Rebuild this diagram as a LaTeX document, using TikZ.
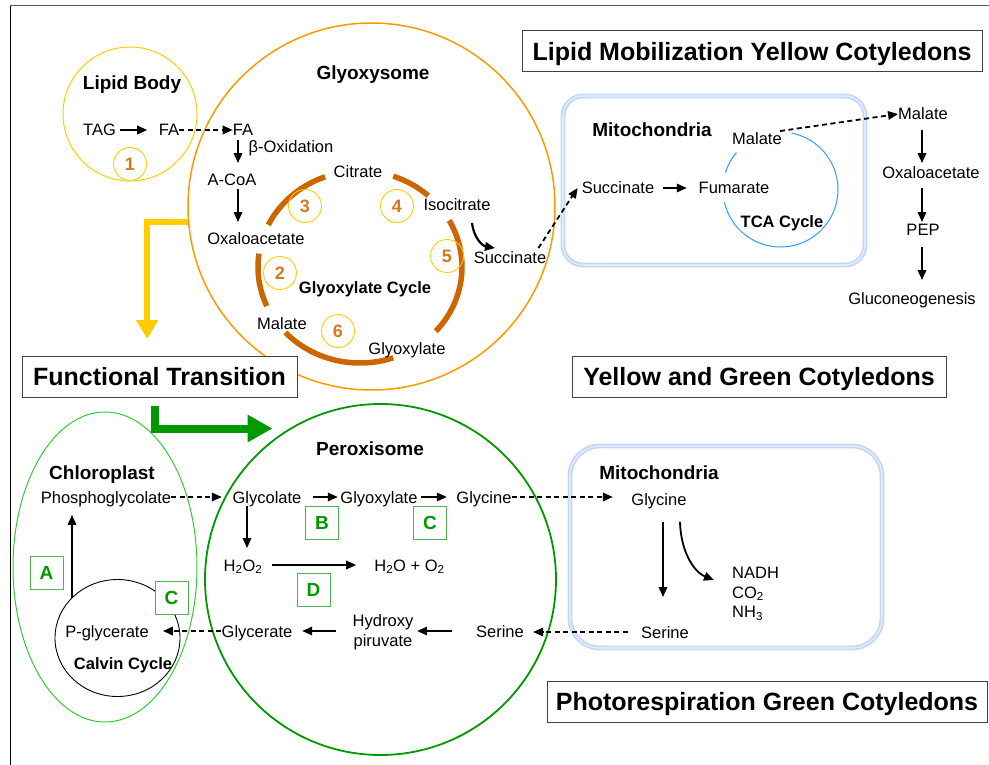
\documentclass[tikz,border=0pt]{standalone}
\usepackage{fontspec}
\setmainfont{Liberation Sans}
\usetikzlibrary{arrows.meta,shapes.geometric,calc}
\definecolor{ringc}{HTML}{CC6600}
\definecolor{glyoc}{HTML}{FF9900}
\definecolor{ylw}{HTML}{FFCC00}
\definecolor{numc}{HTML}{D47A1E}
\definecolor{dgreen}{HTML}{009900}
\definecolor{lgreen}{HTML}{33CC33}
\definecolor{boxg}{HTML}{4DB34D}
\definecolor{tcac}{HTML}{3399FF}
\definecolor{mitoc}{HTML}{C2D6F6}
\definecolor{mitoin}{HTML}{E0EAFB}
\tikzset{
 txt/.style={inner sep=0pt, text height=12pt, text depth=0pt, font=\fontsize{16.5}{19}\selectfont},
 txtm/.style={inner sep=0pt, font=\fontsize{16.5}{19.5}\selectfont},
 bl/.style={inner sep=0pt, text height=13.6pt, text depth=0pt, font=\bfseries\fontsize{19}{22}\selectfont},
 cyc/.style={txt, font=\bfseries\fontsize{16.5}{19}\selectfont},
 ttl/.style={draw=black!75, line width=1, fill=white, font=\bfseries\fontsize{25}{28}\selectfont, minimum height=41pt, inner sep=0pt, text height=18pt, text depth=0pt},
 ncirc/.style={circle, draw=ylw, line width=0.9, minimum size=33pt, inner sep=0pt, text=numc, font=\bfseries\fontsize{18}{20}\selectfont},
 lbox/.style={draw=boxg, line width=1, fill=white, minimum size=33pt, inner sep=0pt, text=dgreen, font=\bfseries\fontsize{19}{20}\selectfont},
 arr/.style={line width=1.8, -{Triangle[length=10pt,width=8.5pt]}},
 darr/.style={arr, dash pattern=on 5pt off 3.5pt},
 ring/.style={draw=ringc, line width=5.5},
 mitobox/.style={draw=mitoc, line width=1.6, double=mitoin, double distance=1.6pt, inner sep=0pt},
}
\begin{document}
\begin{tikzpicture}[x=1pt,y=-1pt]
\useasboundingbox (0,0) rectangle (989,765);
% frame
\draw[black!65, line width=1] (10,6) -- (989,6);
\draw[black, line width=1] (10,6) -- (10,765);

% containers
\node[circle, draw=ylw, line width=1, minimum size=134pt, inner sep=0pt] (lipid) at (130,114) {};
\node[circle, draw=glyoc, line width=1.5, minimum size=367pt, inner sep=0pt] (glyo) at (371.5,206.5) {};
\node[mitobox, rounded corners=20pt, minimum width=302pt, minimum height=169pt] (mito1) at (714,180.5) {};
\node[mitobox, rounded corners=30pt, minimum width=312pt, minimum height=202pt] (mito2) at (726,547) {};
\node[ellipse, draw=lgreen, line width=1, minimum width=184pt, minimum height=310pt, inner sep=0pt] (chl) at (105,567) {};
\node[circle, draw=dgreen, line width=1.8, minimum size=351pt, inner sep=0pt] (perox) at (380.5,579.5) {};
\node[ellipse, draw=black, line width=0.9, minimum width=125pt, minimum height=117pt, inner sep=0pt] (calvin) at (117.5,638) {};

% glyoxylate cycle ring
\foreach \a/\b in {48/71,110/154,172/204,223/289,318/389}
  \draw[ring] plot[domain=\a:\b, samples=40, variable=\t] ({360+102*cos(\t)},{267-96*sin(\t)});
% TCA cycle
\foreach \a/\b in {140/163,193/439}
  \draw[tcac, line width=1] plot[domain=\a:\b, samples=60, variable=\t] ({780.5+57.5*cos(\t)},{189.5-57.5*sin(\t)});

% titles
\node[ttl, minimum width=460pt] (lmt) at (752,51.5) {Lipid Mobilization Yellow Cotyledons};
\node[ttl, minimum width=275pt] (ft) at (159.5,376.5) {Functional Transition};
\node[ttl, minimum width=374pt] (ygc) at (759,376.5) {Yellow and Green Cotyledons};
\node[ttl, minimum width=440pt] (pgc) at (767,701.5) {Photorespiration Green Cotyledons};

% big transition arrows
\draw[ylw, line width=6, -{Triangle[length=19pt,width=21pt]}] ($(glyo.west)+(0.7,15.5)$) -- ++(-40.7,0) -- ++(0,117);
\draw[dgreen, line width=8, -{Triangle[length=25pt,width=26pt]}] ($(ft.south)+(-4.5,8)$) -- ++(0,23) -- ++(117.5,0);

% lipid body / glyoxysome
\node[bl] (lbt) at (132,83) {Lipid Body};
\node[txt] (tag) at (99.5,130) {TAG};
\node[txt] (fa1) at (169,130) {FA};
\node[txt] (fa2) at (243,130) {FA};
\node[ncirc] (n1) at (130,164) {1};
\node[bl] (glyt) at (373,73) {Glyoxysome};
\node[txt] (box) at (291,147) {β-Oxidation};
\node[txt] (acoa) at (232,180) {A-CoA};
\node[txt] (oaa) at (256,238) {Oxaloacetate};
\node[txt] (cit) at (358,172) {Citrate};
\node[txt] (isoc) at (457,205) {Isocitrate};
\node[txt] (suc1) at (510,258) {Succinate};
\node[cyc] (glc) at (365,288) {Glyoxylate Cycle};
\node[txt] (mal0) at (282,323) {Malate};
\node[txt] (glx0) at (407,348) {Glyoxylate};
\node[ncirc] (n3) at (305,206) {3};
\node[ncirc] (n4) at (397,206) {4};
\node[ncirc] (n5) at (447,256) {5};
\node[ncirc] (n2) at (280,273) {2};
\node[ncirc] (n6) at (338,331) {6};

% mitochondria (top)
\node[bl] (mitt1) at (652,130) {Mitochondria};
\node[txt] (mal1) at (757,139) {Malate};
\node[txt] (suc2) at (618,188) {Succinate};
\node[txt] (fum) at (734,188) {Fumarate};
\node[cyc] (tcat) at (782,222) {TCA Cycle};
\node[txt] (mal2) at (923,114) {Malate};
\node[txt] (oaa2) at (931,173) {Oxaloacetate};
\node[txt] (pep) at (923,230) {PEP};
\node[txt] (gng) at (912,298) {Gluconeogenesis};

% bottom half
\node[bl] (chlt) at (102,473) {Chloroplast};
\node[txt] (pgly) at (106,497) {Phosphoglycolate};
\node[txt] (glyc) at (267,497) {Glycolate};
\node[bl] (pert) at (370,449) {Peroxisome};
\node[txt] (glx1) at (379,497) {Glyoxylate};
\node[txt] (gly1) at (484,497) {Glycine};
\node[txt] (h2o2) at (243,565) {H\textsubscript{2}O\textsubscript{2}};
\node[txt] (prod) at (409.5,565) {H\textsubscript{2}O + O\textsubscript{2}};
\node[txt] (pglyc) at (107,631) {P-glycerate};
\node[cyc] (calt) at (123,663) {Calvin Cycle};
\node[txt] (glce) at (257,631) {Glycerate};
\node[txtm, align=center] (hyd) at (383,632) {Hydroxy\\piruvate};
\node[txt] (ser1) at (500,631) {Serine};
\node[bl] (mitt2) at (659,473) {Mitochondria};
\node[txt] (gly2) at (659,499) {Glycine};
\node[txt] (ser2) at (665,632) {Serine};
\node[txtm, align=left, anchor=west] (nad) at (732,594) {NADH\\CO\textsubscript{2}\\NH\textsubscript{3}};

% connectors (top)
\draw[arr, shorten <=4pt, shorten >=11.5pt] (tag) -- (fa1);
\draw[darr] (fa1) -- (fa2);
\draw[arr] ($(fa2.south)+(-5,3.75)$) -- ($(acoa.north)+(6,-10.75)$);
\draw[arr] ($(acoa.south)+(6,3.25)$) -- ($(oaa.north)+(-18,-9.75)$);
\draw[arr, line width=2.2] ($(isoc.south)+(15,11.75)$) .. controls +(2,16) and +(-12,-2) .. ($(suc1.north)+(-15,-3.75)$);
\draw[darr] ($(suc1.north east)+(-8,-3.75)$) -- ($(suc2.west)+(-4,0)$);
\draw[arr, shorten <=9pt, shorten >=11.7pt] (suc2) -- (fum);
\draw[darr] ($(mal1.north east)+(-2,-1.75)$) -- (mal2.west);
\draw[arr] ($(mal2.south)+(-1,9.75)$) -- ($(oaa2.north)+(-9,-3.75)$);
\draw[arr] ($(oaa2.south)+(-9,8.75)$) -- ($(pep.north)+(-1,-1.75)$);
\draw[arr] ($(pep.south)+(-1,10.75)$) -- ($(gng.north)+(10,-11.75)$);

% connectors (bottom)
\draw[darr, shorten >=10.6pt] (pgly) -- (glyc);
\draw[arr] ($(calvin.center)+(-45.5,-40)$) -- ($(pgly.south)+(-34,11.75)$);
\draw[arr, shorten <=11.6pt, shorten >=2.5pt] (glyc) -- (glx1);
\draw[arr, shorten <=3.5pt, shorten >=9.5pt] (glx1) -- (gly1);
\draw[darr, shorten >=18.5pt] (gly1.east) -- (gly1.east -| gly2.west);
\draw[arr] ($(glyc.south)+(-20,2.75)$) -- ($(h2o2.north)+(4,-10.75)$);
\draw[arr, shorten <=9pt, shorten >=18pt] (h2o2) -- (prod);
\draw[arr, shorten <=24pt, shorten >=3.7pt] (ser1) -- (ser1 -| hyd.east);
\draw[arr, shorten <=16.7pt, shorten >=9.7pt] (glce -| hyd.west) -- (glce);
\draw[darr, shorten >=14pt] (glce) -- (pglyc);
\draw[darr, shorten <=13pt, shorten >=9pt] (ser2.west) -- (ser2.west -| ser1.east);
\draw[arr] ($(gly2.south)+(4,16.75)$) -- ($(ser2.north)+(-2,-28.75)$);
\draw[arr] ($(gly2.south)+(21,16.75)$) .. controls +(1,33) and +(-18,-7) .. ($(nad.west)+(-18,-14)$);

% enzyme boxes
\node[lbox] (bA) at (46.5,572.5) {A};
\node[lbox] (bC1) at (171.5,597.5) {C};
\node[lbox] (bB) at (322,523) {B};
\node[lbox] (bC2) at (430,523) {C};
\node[lbox] (bD) at (313.5,589.5) {D};
\end{tikzpicture}
\end{document}
